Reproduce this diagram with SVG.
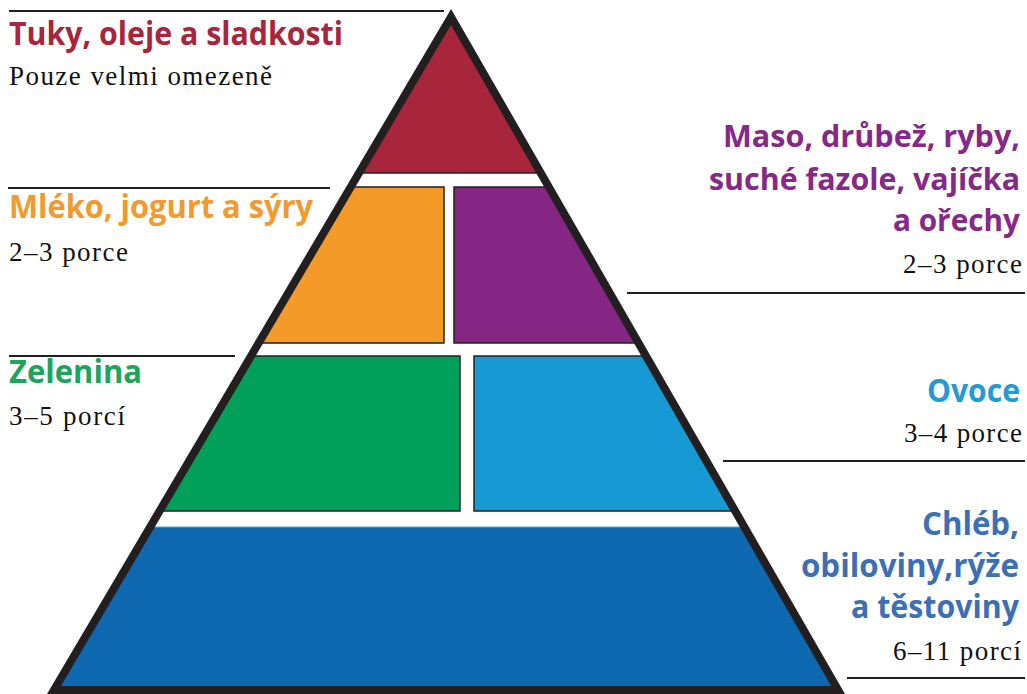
<svg xmlns="http://www.w3.org/2000/svg" width="1027" height="694" viewBox="0 0 1027 694">
  <style>
    .head { font-family: "Open Sans", "Liberation Sans", sans-serif; font-weight: 700; font-size: 32px; }
    .headsm { font-size: 30.5px; }
    .sub { font-family: "Liberation Serif", "Times New Roman", serif; font-size: 27px; fill: #111; }
    .band { stroke: #231f20; stroke-width: 1.5; stroke-linejoin: miter; }
    .lead { stroke: #231f20; stroke-width: 2; fill: none; }
    .outline { fill: none; stroke: #231f20; stroke-width: 8; stroke-linejoin: miter; stroke-miterlimit: 6; }
  </style>
  <rect width="1027" height="694" fill="#ffffff"/>

  <g id="connectors">
    <line class="lead" x1="9" y1="11" x2="444" y2="11"/>
    <line class="lead" x1="8" y1="188" x2="330" y2="188"/>
    <line class="lead" x1="9" y1="356" x2="235" y2="356"/>
    <line class="lead" x1="627" y1="293" x2="1025" y2="293"/>
    <line class="lead" x1="723" y1="461" x2="1025" y2="461"/>
    <line class="lead" x1="847" y1="678" x2="1025" y2="678"/>
  </g>

  <g id="fats">
    <polygon class="band" fill="#a8253c" points="451,17 358.9,173 540.7,173"/>
    <text class="head" x="9" y="45" fill="#a8253c" textLength="334" lengthAdjust="spacingAndGlyphs">Tuky, oleje a sladkosti</text>
    <text class="sub" x="9" y="85" textLength="263" lengthAdjust="spacing">Pouze velmi omezeně</text>
  </g>

  <g id="dairy">
    <polygon class="band" fill="#f39a28" points="350.7,187 444,187 444,343 258.7,343"/>
    <text class="head" x="9" y="218" fill="#f29a2e" textLength="304" lengthAdjust="spacingAndGlyphs">Mléko, jogurt a sýry</text>
    <text class="sub" x="9" y="261" textLength="119" lengthAdjust="spacing">2–3 porce</text>
  </g>

  <g id="meat">
    <polygon class="band" fill="#862684" points="454,187 548.8,187 638.5,343 454,343"/>
    <text class="head headsm" x="723" y="147" fill="#86278a" textLength="297" lengthAdjust="spacingAndGlyphs">Maso, drůbež, ryby,</text>
    <text class="head headsm" x="709" y="190" fill="#86278a" textLength="311" lengthAdjust="spacingAndGlyphs">suché fazole, vajíčka</text>
    <text class="head headsm" x="893" y="231" fill="#86278a" textLength="127" lengthAdjust="spacingAndGlyphs">a ořechy</text>
    <text class="sub" x="903" y="273" textLength="119" lengthAdjust="spacing">2–3 porce</text>
  </g>

  <g id="vegetables">
    <polygon class="band" fill="#00a05a" points="251,356 460,356 460,511 159.6,511"/>
    <text class="head" x="9" y="383" fill="#1ca55a" textLength="133" lengthAdjust="spacingAndGlyphs">Zelenina</text>
    <text class="sub" x="9" y="425" textLength="116" lengthAdjust="spacing">3–5 porcí</text>
  </g>

  <g id="fruit">
    <polygon class="band" fill="#1799d3" points="474,356 646,356 735.1,511 474,511"/>
    <text class="head" x="927" y="402" fill="#229ad6" textLength="93" lengthAdjust="spacingAndGlyphs">Ovoce</text>
    <text class="sub" x="904" y="442" textLength="118" lengthAdjust="spacing">3–4 porce</text>
  </g>

  <g id="grains">
    <polygon fill="#0d68af" stroke="#6a9fcf" stroke-width="1" points="150.1,527 744.3,527 838.1,690 54,690"/>
    <text class="head" x="922" y="535" fill="#3d6fb6" textLength="97" lengthAdjust="spacingAndGlyphs">Chléb,</text>
    <text class="head" x="801" y="577" fill="#3d6fb6" textLength="218" lengthAdjust="spacingAndGlyphs">obiloviny,rýže</text>
    <text class="head" x="851" y="618" fill="#3d6fb6" textLength="168" lengthAdjust="spacingAndGlyphs">a těstoviny</text>
    <text class="sub" x="893" y="660" textLength="128" lengthAdjust="spacing">6–11 porcí</text>
  </g>

  <g id="pyramid-outline">
    <polygon class="outline" points="451,17 54,690 838.1,690"/>
  </g>
</svg>
